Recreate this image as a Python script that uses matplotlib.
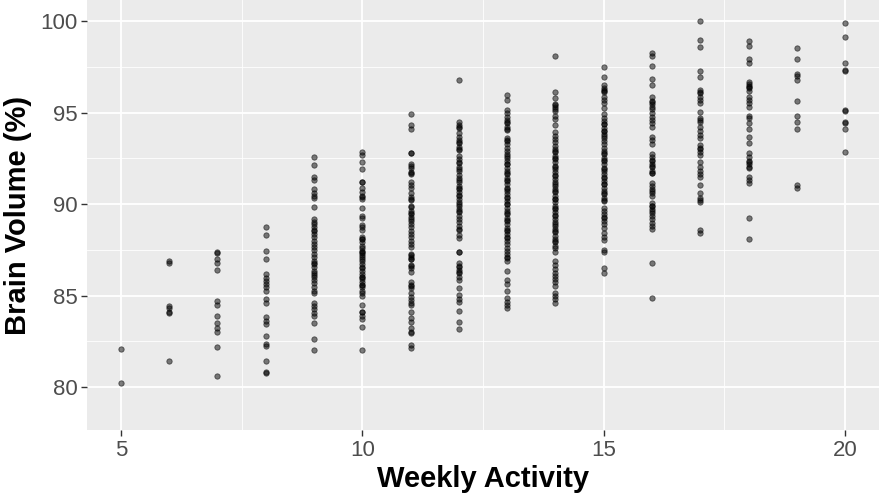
import numpy as np
import matplotlib.pyplot as plt

# brain volume (%) observed at each level of weekly activity
vol_05 = [82.1, 80.2]
vol_06 = [86.9, 86.8, 84.4, 84.3, 84.1, 84.05, 81.4]
vol_07 = [87.4, 87.3, 87.0, 86.8, 86.4, 84.7, 84.5, 83.9, 83.5, 83.2, 83.0, 82.2, 80.6]
vol_08 = [88.73, 88.3, 87.43, 86.98, 86.17, 85.94, 85.79, 85.63, 85.45, 85.23,
          84.79, 84.61, 83.81, 83.62, 83.44, 82.8, 82.35, 82.24, 81.44, 80.78, 80.8]
vol_09 = [92.55, 92.11, 91.46, 91.31, 90.8, 90.62, 90.44, 90.31, 89.85, 89.18,
          89.03, 88.91, 88.73, 88.54, 88.36, 88.18, 87.67, 87.49, 87.27, 87.09,
          86.9, 86.72, 86.54, 86.36, 86.21, 86.03, 85.85, 85.67, 85.48, 85.26,
          85.15, 84.61, 84.43, 84.25, 84.06, 83.88, 83.51, 82.61, 82.02,
          88.6, 88.0, 87.8, 86.8, 86.1]
vol_10 = [92.86, 92.68, 92.31, 91.91, 91.22, 90.86, 90.67, 90.44, 90.26, 89.77,
          89.34, 89.22, 88.85, 88.73, 88.58, 88.18, 88.07, 87.94, 87.7, 87.45,
          87.34, 87.21, 87.09, 86.9, 86.72, 86.57, 86.36, 86.17, 85.99, 85.89,
          85.75, 85.57, 85.45, 85.26, 85.12, 84.97, 84.48, 84.11, 83.88, 83.7,
          83.3, 82.02, 91.2, 90.4, 88.1, 87.6, 87.4, 87.0, 86.5, 86.0, 85.6, 84.1]
vol_11 = [94.92, 94.32, 94.08, 92.77, 92.19, 91.95, 91.77, 91.64, 91.22, 91.04,
          90.86, 90.62, 90.4, 90.22, 89.82, 89.63, 89.45, 89.27, 89.09, 88.91,
          88.73, 88.54, 88.36, 88.18, 87.99, 87.81, 87.63, 87.27, 87.12, 86.98,
          86.67, 86.49, 86.3, 85.75, 85.57, 85.39, 85.12, 84.93, 84.75, 84.48,
          84.11, 83.75, 83.57, 83.21, 83.02, 82.93, 82.3, 82.11,
          92.8, 92.1, 91.7, 90.3, 89.9, 89.5, 89.2, 87.2, 87.0, 86.6, 85.5, 84.6]
vol_12 = [96.8, 94.46, 94.32, 94.14, 93.68, 93.5, 93.32, 93.13, 92.95, 92.64,
          92.46, 92.22, 92.04, 91.8, 91.58, 91.4, 91.19, 91.0, 90.82, 90.64,
          90.45, 90.27, 90.09, 89.91, 89.73, 89.55, 89.36, 89.18, 89.0, 88.81,
          88.63, 88.31, 88.13, 87.36, 86.76, 86.57, 86.39, 86.21, 86.03, 85.85,
          85.43, 85.03, 84.81, 84.63, 84.15, 83.57, 83.17,
          94.2, 93.9, 93.4, 93.0, 92.3, 91.9, 91.3, 90.9, 90.5, 90.0, 89.6, 88.6,
          87.4, 86.6, 86.3]
vol_13 = [95.96, 95.68, 95.14, 94.96, 94.77, 94.59, 94.41, 94.22, 94.04, 93.62,
          93.44, 93.26, 93.08, 92.9, 92.72, 92.53, 92.35, 92.17, 91.98, 91.8,
          91.62, 91.44, 91.26, 91.08, 90.89, 90.71, 90.53, 90.34, 90.16, 89.98,
          89.8, 89.62, 89.44, 89.25, 89.07, 88.89, 88.7, 88.52, 88.34, 88.16,
          87.98, 87.8, 87.43, 87.25, 87.07, 86.89, 86.34, 85.85, 85.61, 85.25,
          84.85, 84.66, 84.48, 84.3,
          94.5, 94.1, 93.5, 92.6, 92.2, 91.7, 91.3, 90.8, 90.4, 90.0, 89.5, 89.1,
          88.6, 88.2, 87.6, 87.1]
vol_14 = [98.1, 96.14, 95.78, 95.45, 95.32, 95.08, 94.83, 94.64, 94.32, 93.92,
          93.73, 93.55, 93.37, 93.19, 93.01, 92.83, 92.64, 92.46, 92.28, 92.09,
          91.91, 91.73, 91.55, 91.37, 91.19, 91.0, 90.82, 90.64, 90.45, 90.27,
          90.09, 89.91, 89.73, 89.55, 89.36, 89.18, 89.0, 88.81, 88.63, 88.45,
          88.27, 88.09, 87.91, 87.72, 87.36, 86.89, 86.67, 86.45, 86.21, 86.08,
          85.9, 85.72, 85.54, 85.12, 84.99, 84.81, 84.57,
          95.4, 95.2, 92.9, 92.5, 92.0, 91.6, 91.1, 90.7, 90.3, 89.8, 89.4, 88.9,
          88.5, 88.0, 87.6]
vol_15 = [97.5, 96.96, 96.5, 96.36, 96.23, 96.1, 95.86, 95.68, 95.5, 95.23,
          94.9, 94.72, 94.54, 94.36, 94.17, 93.99, 93.81, 93.62, 93.44, 93.26,
          93.08, 92.9, 92.72, 92.53, 92.35, 92.17, 91.98, 91.8, 91.62, 91.44,
          91.26, 91.08, 90.89, 90.71, 90.53, 90.34, 90.16, 89.8, 89.44, 89.25,
          89.07, 88.89, 88.7, 88.4, 88.21, 88.03, 87.49, 87.39, 86.49, 86.21,
          96.2, 94.4, 94.0, 93.7, 92.8, 92.4, 91.9, 91.5, 91.1, 90.6, 90.2, 89.6,
          89.3]
vol_16 = [98.27, 98.1, 97.54, 96.81, 96.5, 95.86, 95.64, 95.46, 95.17, 94.99,
          94.77, 94.59, 94.41, 94.19, 93.68, 93.5, 93.28, 92.73, 92.55, 92.37,
          92.19, 92.0, 91.82, 91.68, 91.16, 90.98, 90.8, 90.62, 90.44, 90.07,
          89.89, 89.71, 89.52, 89.34, 89.16, 88.98, 88.8, 88.62, 86.79, 84.85,
          95.6, 95.3, 92.4, 92.1, 91.7, 90.7, 89.9, 89.6]
vol_17 = [100.0, 98.96, 98.6, 97.28, 96.96, 96.23, 96.05, 95.86, 95.68, 95.5,
          95.04, 94.68, 94.5, 94.22, 94.01, 93.77, 93.59, 93.22, 93.04, 92.86,
          92.68, 92.31, 92.04, 91.82, 91.64, 91.49, 91.04, 90.62, 90.31, 90.13,
          88.58, 88.43, 96.1, 94.6, 93.0, 90.2]
vol_18 = [98.92, 98.63, 97.91, 97.72, 96.68, 96.56, 96.45, 96.32, 96.19, 95.83,
          95.68, 95.5, 95.32, 94.81, 94.68, 94.44, 94.08, 93.68, 93.35, 92.77,
          92.55, 92.37, 92.19, 92.04, 91.95, 91.46, 91.31, 91.16, 89.22, 88.07,
          96.4, 92.3]
vol_19 = [98.51, 97.91, 97.1, 97.01, 96.78, 95.64, 94.81, 94.46, 94.1, 91.04, 90.86]
vol_20 = [99.87, 99.14, 97.69, 97.32, 97.28, 95.14, 95.1, 94.5, 94.41, 94.08, 92.86]

columns = [vol_05, vol_06, vol_07, vol_08, vol_09, vol_10, vol_11, vol_12,
           vol_13, vol_14, vol_15, vol_16, vol_17, vol_18, vol_19, vol_20]
activity_levels = list(range(5, 21))

weekly = np.concatenate([[a] * len(v) for a, v in zip(activity_levels, columns)])
volume = np.concatenate(columns)

plt.rcParams['font.family'] = ['Liberation Sans', 'DejaVu Sans']

fig = plt.figure(figsize=(8.8, 4.94), dpi=100)
ax = fig.add_axes([87 / 880, 64 / 494, 792 / 880, 430 / 494])
ax.set_facecolor('#EBEBEB')

ax.scatter(weekly, volume, s=15, facecolor=(0, 0, 0, 0.5),
           edgecolor=(0, 0, 0, 0.55), linewidth=0.6, zorder=3)

ax.set_xlim(4.3, 20.7)
ax.set_ylim(77.65, 101.15)
ax.set_xticks([5, 10, 15, 20])
ax.set_yticks([80, 85, 90, 95, 100])
ax.set_xticks([7.5, 12.5, 17.5], minor=True)
ax.set_yticks([82.5, 87.5, 92.5, 97.5], minor=True)

ax.grid(which='major', color='white', linewidth=1.3)
ax.grid(which='minor', color='white', linewidth=0.6)
ax.set_axisbelow(True)
for s in ax.spines.values():
    s.set_visible(False)

ax.tick_params(which='major', length=4, width=1, color='#333333',
               labelsize=16, labelcolor='#4D4D4D', pad=3)
ax.tick_params(which='minor', length=0)

ax.set_xlabel('Weekly Activity', fontsize=21, fontweight='bold', labelpad=3)
ax.set_ylabel('Brain Volume (%)', fontsize=21, fontweight='bold', labelpad=6)

fig.savefig('out.png', dpi=100)
